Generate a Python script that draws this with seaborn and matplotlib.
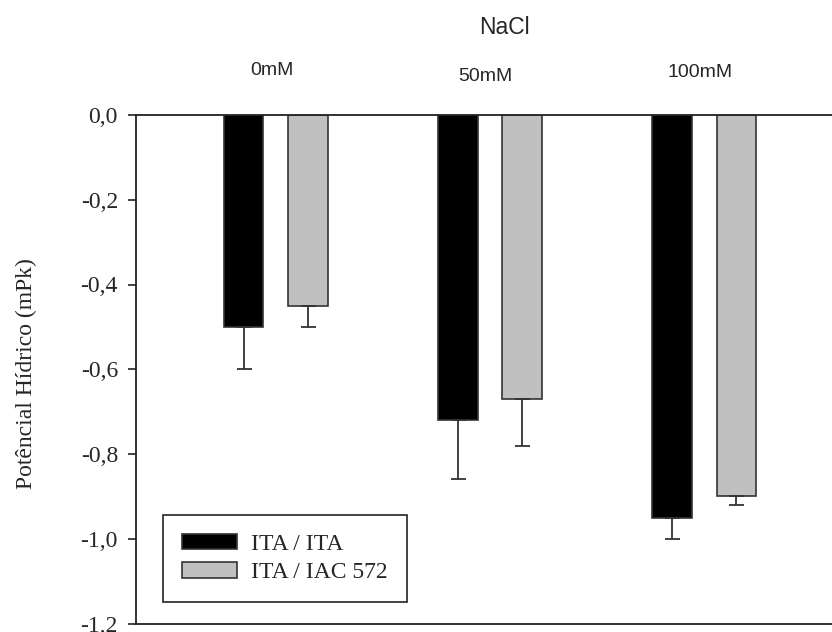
import matplotlib
matplotlib.use("Agg")
import matplotlib.pyplot as plt
import seaborn as sns
import pandas as pd
import numpy as np

# ---- data ----
groups = ["0mM", "50mM", "100mM"]
series_names = ["ITA / ITA", "ITA / IAC 572"]
ita_ita = [-0.50, -0.72, -0.95]
ita_iac = [-0.45, -0.67, -0.90]
err_ita_ita = [0.10, 0.14, 0.05]
err_ita_iac = [0.05, 0.11, 0.02]
yticks = [0.0, -0.2, -0.4, -0.6, -0.8, -1.0, -1.2]
ytick_labels = ["0,0", "-0,2", "-0,4", "-0,6", "-0,8", "-1,0", "-1,2"]

sns.set_style("ticks")
plt.rcParams["font.family"] = ["Liberation Serif", "DejaVu Serif"]

df = pd.DataFrame({
    "NaCl": groups * 2,
    "serie": [series_names[0]] * 3 + [series_names[1]] * 3,
    "valor": ita_ita + ita_iac,
})
errs = {series_names[0]: err_ita_ita, series_names[1]: err_ita_iac}

W, H = 832, 632
fig = plt.figure(figsize=(W / 100, H / 100), dpi=100)
ax_left, ax_right_px = 136, 136 + 3.304 * 214.3
ax_top, ax_bot = 115, 623.5
ax = fig.add_axes([ax_left / W, 1 - ax_bot / H, (ax_right_px - ax_left) / W, (ax_bot - ax_top) / H])

sns.barplot(data=df, x="NaCl", y="valor", hue="serie", order=groups,
            hue_order=series_names, palette=["#000000", "#c0c0c0"],
            width=0.6, gap=0.387, errorbar=None, edgecolor="#333333",
            linewidth=1.2, ax=ax)

for cont, name in zip(ax.containers, series_names):
    xs = [b.get_x() + b.get_width() / 2 for b in cont]
    ys = [b.get_height() + b.get_y() for b in cont]
    e = errs[name]
    ax.errorbar(xs, ys, yerr=[e, [0] * len(e)], fmt="none", ecolor="#333333",
                elinewidth=1.3, capsize=5.4, capthick=1.3, zorder=1)

ax.set_xlim(-0.652, 2.652)
ax.set_ylim(-1.2, 0.0)
ax.set_yticks(yticks)
ax.set_yticklabels(ytick_labels)
ax.tick_params(axis="y", direction="out", length=6, width=1.2, pad=7, labelsize=17, color="#222222")
ax.tick_params(axis="x", bottom=False, labelbottom=False)
ax.set_xlabel("")
ax.set_ylabel("Potêncial Hídrico (mPk)", fontsize=17, va="center")
ax.yaxis.set_label_coords(-(136 - 26) / (ax_right_px - ax_left), (ax_bot - 374) / (ax_bot - ax_top))
for s in ["left", "top", "bottom"]:
    ax.spines[s].set_visible(True)
    ax.spines[s].set_linewidth(1.3)
    ax.spines[s].set_color("#222222")
ax.spines["right"].set_visible(False)

# group labels
label_y = [70.6, 76.6, 72.6]
trans = matplotlib.transforms.blended_transform_factory(ax.transData, fig.transFigure)
for i, (g, py) in enumerate(zip(groups, label_y)):
    ax.text(i - 0.02, 1 - py / H, g, transform=trans, ha="center", va="center",
            fontsize=14, family=["Liberation Sans", "DejaVu Sans"])
fig.text(504.5 / W, 1 - 27 / H, "NaCl", ha="center", va="center", fontsize=16.5,
         family=["Liberation Sans", "DejaVu Sans"])

h, l = ax.get_legend_handles_labels()
leg = ax.legend(h, l, loc="lower left", bbox_to_anchor=(163 / W, 1 - 602 / H),
                bbox_transform=fig.transFigure, borderaxespad=0, fontsize=17,
                handlelength=2.33, handleheight=0.64, handletextpad=0.6,
                labelspacing=0.3, borderpad=0.8, fancybox=False,
                edgecolor="#222222", framealpha=1, title=None)
leg.get_frame().set_linewidth(1.2)

fig.savefig("out.png", dpi=100)
